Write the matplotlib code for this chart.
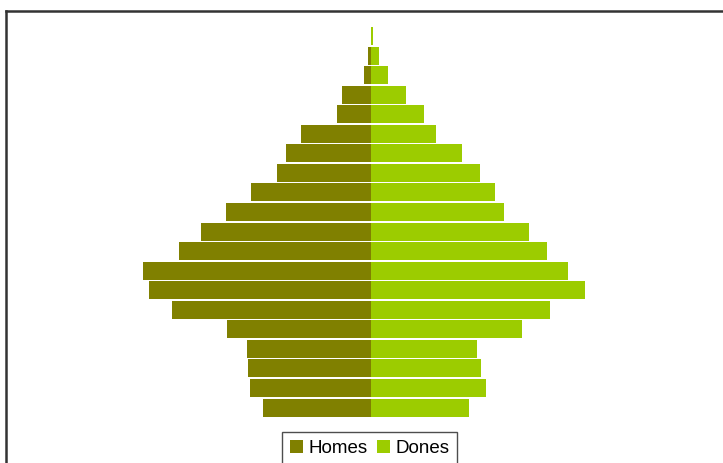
import matplotlib
matplotlib.use("Agg")
import matplotlib.pyplot as plt
from matplotlib.lines import Line2D

plt.rcParams['font.family'] = ['Liberation Sans', 'DejaVu Sans']

# Age groups from youngest (bottom) to oldest (top)
age_groups = ["0-4", "5-9", "10-14", "15-19", "20-24", "25-29", "30-34", "35-39",
              "40-44", "45-49", "50-54", "55-59", "60-64", "65-69", "70-74",
              "75-79", "80-84", "85-89", "90-94", "95+"]
homes = [108, 121, 123, 124, 144, 199, 222, 228, 192, 170,
         145, 120, 94, 85, 70, 34, 29, 7, 3, 0]
dones = [98, 115, 110, 106, 151, 179, 214, 197, 176, 158,
         133, 124, 109, 91, 65, 53, 35, 17, 8, 2]
series_labels = ["Homes", "Dones"]
colors = ["#808000", "#9ccc00"]

W, H = 723, 463
fig = plt.figure(figsize=(W / 100, H / 100), dpi=100)
fig.patch.set_facecolor("white")

ax = fig.add_axes([0, (H - 417.3) / H, 1, 391.1 / H])
ypos = list(range(len(age_groups)))
b1 = ax.barh(ypos, [-v for v in homes], height=0.92, color=colors[0], label=series_labels[0])
b2 = ax.barh(ypos, dones, height=0.92, color=colors[1], label=series_labels[1])
ax.set_xlim(-371, W - 371)
ax.set_ylim(-0.5, len(age_groups) - 0.5)
ax.axis("off")

# chart border (left and top visible)
lc = "#333333"
fig.add_artist(Line2D([6.5 / W, 6.5 / W], [-0.01, 1 - 10.5 / H], transform=fig.transFigure,
                      color=lc, lw=1.8))
fig.add_artist(Line2D([6.5 / W, 1.01], [1 - 10.5 / H, 1 - 10.5 / H], transform=fig.transFigure,
                      color=lc, lw=1.8))

leg = fig.legend([b1, b2], series_labels, loc="upper center", ncol=2,
                 bbox_to_anchor=(369.5 / W, (H - 432) / H), fontsize=13.5,
                 handlelength=0.7, handleheight=0.7, handletextpad=0.3,
                 columnspacing=0.5, borderpad=0.4, borderaxespad=0,
                 fancybox=False, frameon=True)
leg.get_frame().set_edgecolor("#222222")
leg.get_frame().set_linewidth(1.0)

fig.savefig("out.png", dpi=100, facecolor="white")
